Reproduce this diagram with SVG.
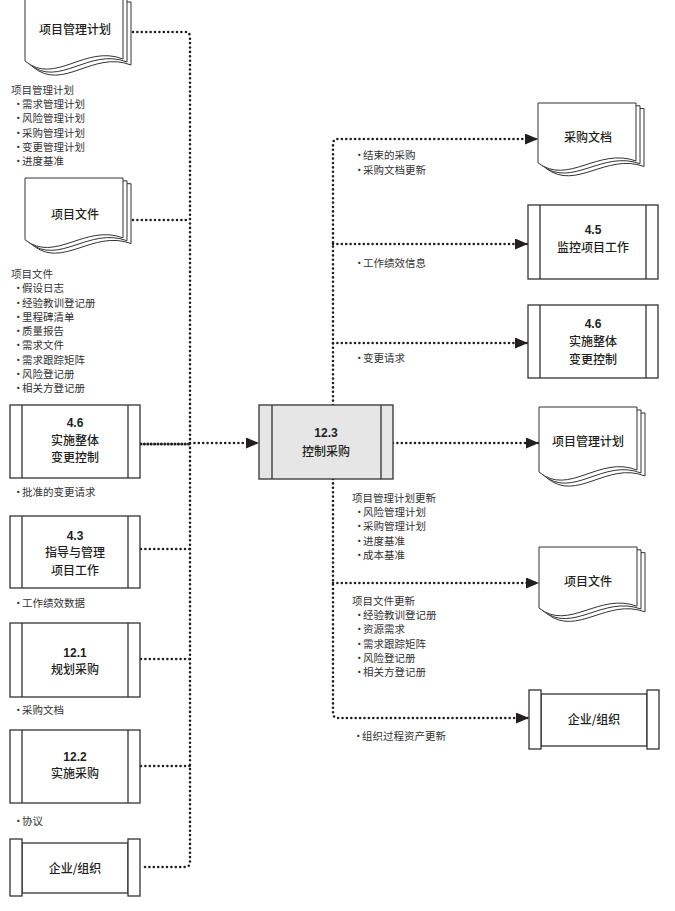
<svg xmlns="http://www.w3.org/2000/svg" xmlns:xlink="http://www.w3.org/1999/xlink" width="675" height="911" viewBox="0 0 675 911">
<style>
.bg{fill:#ffffff}
.pg{fill:#ffffff;stroke:#333;stroke-width:1;vector-effect:non-scaling-stroke}
.box{fill:#ffffff;stroke:#333;stroke-width:1.3}
.boxc{fill:#e6e6e6;stroke:#333;stroke-width:1.3}
.in{stroke:#333;stroke-width:1.3;fill:none}
.dot{fill:none;stroke:#231f20;stroke-width:2.6;stroke-linecap:round;stroke-dasharray:0 4.4}
.dotH{fill:none;stroke:#231f20;stroke-width:3.2;stroke-linecap:round;stroke-dasharray:0 3.4}
.n{font-family:"Noto Sans CJK SC","Noto Sans",sans-serif;font-size:12px;fill:#231f20;text-anchor:middle;font-weight:500}
.nb{font-family:"Liberation Sans","Noto Sans CJK SC",sans-serif;font-weight:700}
.l{font-family:"Noto Sans CJK SC","Noto Sans",sans-serif;font-size:10.5px;fill:#333}
</style>
<defs>
<marker id="arr" markerUnits="userSpaceOnUse" markerWidth="13" markerHeight="11" refX="13" refY="5.5" orient="auto">
<path d="M0,0 L13,5.5 L0,11 Z" fill="#231f20"/>
</marker>
<g id="doc">
<path class="pg" d="M8,6 H106 V69 C68,54 38,96 8,71 Z"/>
<path class="pg" d="M4,3 H102 V66 C64,51 34,93 4,68 Z"/>
<path class="pg" d="M0,0 H98 V63 C60,48 30,90 0,65 Z"/>
</g>
</defs>
<rect class="bg" x="0" y="0" width="675" height="911"/>

<g id="connectors">
<path class="dot" d="M133,32 H185 Q190,32 190,37 V862 Q190,867 185,867 H141"/>
<path class="dot" d="M133,220 H190"/>
<path class="dotH" d="M141,444 H190"/>
<path class="dot" d="M141,549 H190"/>
<path class="dot" d="M141,659 H190"/>
<path class="dot" d="M141,766 H190"/>
<path class="dot" d="M190,443 H259" marker-end="url(#arr)"/>
<path class="dot" d="M393,443 H539" marker-end="url(#arr)"/>
<path class="dot" d="M333,405 V144 Q333,139 338,139 H538" marker-end="url(#arr)"/>
<path class="dot" d="M333,479 V713 Q333,718 338,718 H529" marker-end="url(#arr)"/>
<path class="dot" d="M333,244 H528" marker-end="url(#arr)"/>
<path class="dot" d="M333,343 H528" marker-end="url(#arr)"/>
<path class="dot" d="M333,583 H539" marker-end="url(#arr)"/>
</g>

<g id="pmp-in">
<use xlink:href="#doc" transform="translate(25,-4)"/>
<text class="n" x="75" y="33.5">项目管理计划</text>
</g>
<g id="pmp-in-list">
<text class="l" x="11" y="94">项目管理计划</text>
<text class="l" y="108.2"><tspan x="13">•</tspan><tspan x="22">需求管理计划</tspan></text>
<text class="l" y="122.4"><tspan x="13">•</tspan><tspan x="22">风险管理计划</tspan></text>
<text class="l" y="136.6"><tspan x="13">•</tspan><tspan x="22">采购管理计划</tspan></text>
<text class="l" y="150.8"><tspan x="13">•</tspan><tspan x="22">变更管理计划</tspan></text>
<text class="l" y="165"><tspan x="13">•</tspan><tspan x="22">进度基准</tspan></text>
</g>

<g id="pd-in">
<use xlink:href="#doc" transform="translate(25,178) scale(1,0.95)"/>
<text class="n" x="75" y="219">项目文件</text>
</g>
<g id="pd-in-list">
<text class="l" x="11" y="278">项目文件</text>
<text class="l" y="292.2"><tspan x="13">•</tspan><tspan x="22">假设日志</tspan></text>
<text class="l" y="306.5"><tspan x="13">•</tspan><tspan x="22">经验教训登记册</tspan></text>
<text class="l" y="320.8"><tspan x="13">•</tspan><tspan x="22">里程碑清单</tspan></text>
<text class="l" y="335.1"><tspan x="13">•</tspan><tspan x="22">质量报告</tspan></text>
<text class="l" y="349.4"><tspan x="13">•</tspan><tspan x="22">需求文件</tspan></text>
<text class="l" y="363.7"><tspan x="13">•</tspan><tspan x="22">需求跟踪矩阵</tspan></text>
<text class="l" y="378"><tspan x="13">•</tspan><tspan x="22">风险登记册</tspan></text>
<text class="l" y="392.3"><tspan x="13">•</tspan><tspan x="22">相关方登记册</tspan></text>
</g>

<g id="p46-in">
<rect class="box" x="10" y="405" width="130" height="73"/>
<path class="in" d="M22,405 V478 M128,405 V478"/>
<text class="n nb" x="75" y="427">4.6</text>
<text class="n" x="75" y="444.5">实施整体</text>
<text class="n" x="75" y="462">变更控制</text>
<text class="l" y="496"><tspan x="13">•</tspan><tspan x="22">批准的变更请求</tspan></text>
</g>

<g id="p43">
<rect class="box" x="10" y="516" width="130" height="72"/>
<path class="in" d="M22,516 V588 M128,516 V588"/>
<text class="n nb" x="75" y="539.5">4.3</text>
<text class="n" x="75" y="557">指导与管理</text>
<text class="n" x="75" y="575">项目工作</text>
<text class="l" y="607"><tspan x="13">•</tspan><tspan x="22">工作绩效数据</tspan></text>
</g>

<g id="p121">
<rect class="box" x="10" y="623" width="130" height="74"/>
<path class="in" d="M22,623 V697 M128,623 V697"/>
<text class="n nb" x="75" y="656.5">12.1</text>
<text class="n" x="75" y="673.5">规划采购</text>
<text class="l" y="714"><tspan x="13">•</tspan><tspan x="22">采购文档</tspan></text>
</g>

<g id="p122">
<rect class="box" x="10" y="730" width="130" height="73"/>
<path class="in" d="M22,730 V803 M128,730 V803"/>
<text class="n nb" x="75" y="760.5">12.2</text>
<text class="n" x="75" y="778">实施采购</text>
<text class="l" y="825"><tspan x="13">•</tspan><tspan x="22">协议</tspan></text>
</g>

<g id="eef-in">
<rect class="box" x="22" y="843" width="106" height="50"/>
<rect class="box" x="10" y="839" width="12" height="57"/>
<rect class="box" x="128" y="839" width="12" height="57"/>
<text class="n" x="75" y="872.5">企业/组织</text>
</g>

<g id="p123">
<rect class="boxc" x="259" y="405" width="134" height="74"/>
<path class="in" d="M272,405 V479 M381,405 V479"/>
<text class="n nb" x="326" y="437">12.3</text>
<text class="n" x="326" y="455.5" font-weight="700">控制采购</text>
</g>

<g id="pdoc-out">
<use xlink:href="#doc" transform="translate(538,103) scale(1,0.92)"/>
<text class="n" x="588" y="142">采购文档</text>
<text class="l" y="159"><tspan x="354">•</tspan><tspan x="363">结束的采购</tspan></text>
<text class="l" y="173.5"><tspan x="354">•</tspan><tspan x="363">采购文档更新</tspan></text>
</g>

<g id="p45">
<rect class="box" x="528" y="205" width="130" height="74"/>
<path class="in" d="M540,205 V279 M646,205 V279"/>
<text class="n nb" x="593" y="234">4.5</text>
<text class="n" x="593" y="251.5">监控项目工作</text>
<text class="l" y="267"><tspan x="354">•</tspan><tspan x="363">工作绩效信息</tspan></text>
</g>

<g id="p46-out">
<rect class="box" x="528" y="305" width="130" height="73"/>
<path class="in" d="M540,305 V378 M646,305 V378"/>
<text class="n nb" x="593" y="328">4.6</text>
<text class="n" x="593" y="346">实施整体</text>
<text class="n" x="593" y="363.5">变更控制</text>
<text class="l" y="362"><tspan x="354">•</tspan><tspan x="363">变更请求</tspan></text>
</g>

<g id="pmp-out">
<use xlink:href="#doc" transform="translate(539,407)"/>
<text class="n" x="588" y="446">项目管理计划</text>
<text class="l" x="352" y="502">项目管理计划更新</text>
<text class="l" y="516.2"><tspan x="354">•</tspan><tspan x="363">风险管理计划</tspan></text>
<text class="l" y="530.4"><tspan x="354">•</tspan><tspan x="363">采购管理计划</tspan></text>
<text class="l" y="544.6"><tspan x="354">•</tspan><tspan x="363">进度基准</tspan></text>
<text class="l" y="558.8"><tspan x="354">•</tspan><tspan x="363">成本基准</tspan></text>
</g>

<g id="pd-out">
<use xlink:href="#doc" transform="translate(539,547) scale(1,0.94)"/>
<text class="n" x="588" y="586">项目文件</text>
<text class="l" x="352" y="605">项目文件更新</text>
<text class="l" y="619.2"><tspan x="354">•</tspan><tspan x="363">经验教训登记册</tspan></text>
<text class="l" y="633.4"><tspan x="354">•</tspan><tspan x="363">资源需求</tspan></text>
<text class="l" y="647.6"><tspan x="354">•</tspan><tspan x="363">需求跟踪矩阵</tspan></text>
<text class="l" y="661.8"><tspan x="354">•</tspan><tspan x="363">风险登记册</tspan></text>
<text class="l" y="676"><tspan x="354">•</tspan><tspan x="363">相关方登记册</tspan></text>
</g>

<g id="eef-out">
<rect class="box" x="541" y="694" width="106" height="52"/>
<rect class="box" x="529" y="690" width="12" height="59"/>
<rect class="box" x="647" y="690" width="12" height="59"/>
<text class="n" x="594" y="724">企业/组织</text>
<text class="l" y="740"><tspan x="353">•</tspan><tspan x="362">组织过程资产更新</tspan></text>
</g>
</svg>
